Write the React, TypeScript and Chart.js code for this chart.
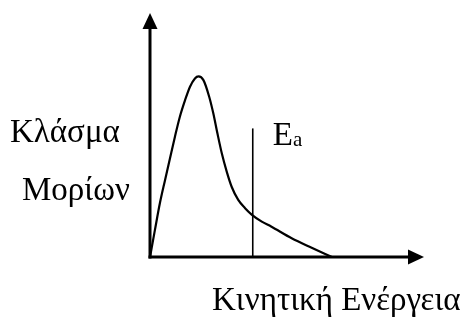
import React, { useEffect, useRef } from "react";
import { Chart, registerables } from "chart.js";

Chart.register(...registerables);

// Maxwell-Boltzmann style curve (arbitrary units)
const energy = [0, 0.18, 0.36, 0.55, 0.73, 0.91, 1.09, 1.28, 1.46, 1.64, 1.77, 1.95, 2.16, 2.31, 2.46, 2.62, 2.8, 2.98, 3.22, 3.47, 3.71, 4.08, 4.42, 5.17, 5.9, 6.64];
const fraction = [0, 1.11, 2.2, 3.16, 4.05, 4.93, 5.75, 6.43, 6.98, 7.32, 7.4, 7.25, 6.57, 5.89, 5.07, 4.25, 3.5, 2.88, 2.34, 2.0, 1.74, 1.45, 1.25, 0.77, 0.38, 0];

const activationEnergy = 3.75;
const activationLineTop = 5.27;

const xLabel = "Κινητική Ενέργεια";
const yLabelLines = ["Κλάσμα", "Μορίων"];
const eaLabel = "E";
const eaSub = "a";

const X_MAX = 10;
const Y_MAX = 10;

const FONT = "'Liberation Serif', 'Times New Roman', serif";

const axesPlugin = {
  id: "axesArrows",
  afterDraw(chart: any) {
    const ctx = chart.ctx as CanvasRenderingContext2D;
    const xs = chart.scales.x;
    const ys = chart.scales.y;
    const x0 = xs.getPixelForValue(0);
    const y0 = ys.getPixelForValue(0);
    const xEnd = xs.getPixelForValue(X_MAX);
    const yEnd = ys.getPixelForValue(Y_MAX);
    ctx.save();
    ctx.strokeStyle = "#000";
    ctx.fillStyle = "#000";
    ctx.lineWidth = 3;
    ctx.lineCap = "butt";
    // y axis
    ctx.beginPath();
    ctx.moveTo(x0, y0 + 1.5);
    ctx.lineTo(x0, yEnd + 14);
    ctx.stroke();
    // x axis
    ctx.beginPath();
    ctx.moveTo(x0 - 1.5, y0);
    ctx.lineTo(xEnd - 14, y0);
    ctx.stroke();
    // arrowheads
    ctx.beginPath();
    ctx.moveTo(x0, yEnd);
    ctx.lineTo(x0 - 7.5, yEnd + 16);
    ctx.lineTo(x0 + 7.5, yEnd + 16);
    ctx.closePath();
    ctx.fill();
    ctx.beginPath();
    ctx.moveTo(xEnd, y0);
    ctx.lineTo(xEnd - 16, y0 - 7.5);
    ctx.lineTo(xEnd - 16, y0 + 7.5);
    ctx.closePath();
    ctx.fill();

    // labels
    ctx.textBaseline = "alphabetic";
    ctx.textAlign = "left";
    ctx.font = `33px ${FONT}`;
    ctx.fillText(yLabelLines[0], x0 - 140, ys.getPixelForValue(4.7));
    ctx.fillText(yLabelLines[1], x0 - 128, ys.getPixelForValue(2.35));
    ctx.fillText(xLabel, x0 + 62, y0 + 53);
    const eaX = xs.getPixelForValue(activationEnergy);
    const eaY = ys.getPixelForValue(activationLineTop);
    ctx.fillText(eaLabel, eaX + 20, eaY + 17);
    const ew = ctx.measureText(eaLabel).width;
    ctx.font = `21px ${FONT}`;
    ctx.fillText(eaSub, eaX + 20 + ew, eaY + 18);
    ctx.restore();
  },
};

export default function App() {
  const ref = useRef<HTMLCanvasElement | null>(null);
  useEffect(() => {
    if (!ref.current) return;
    const chart = new Chart(ref.current, {
      type: "scatter",
      data: {
        datasets: [
          {
            data: energy.map((e, i) => ({ x: e, y: fraction[i] })),
            showLine: true,
            borderColor: "#000",
            borderWidth: 2.2,
            pointRadius: 0,
            cubicInterpolationMode: "monotone",
            fill: false,
            clip: false,
          } as any,
          {
            data: [
              { x: activationEnergy, y: 0 },
              { x: activationEnergy, y: activationLineTop },
            ],
            showLine: true,
            borderColor: "#000",
            borderWidth: 1.6,
            pointRadius: 0,
            clip: false,
          } as any,
        ],
      },
      options: {
        responsive: false,
        animation: false,
        events: [],
        layout: { padding: { left: 150, right: 49, top: 13, bottom: 63 } },
        plugins: {
          legend: { display: false },
          tooltip: { enabled: false },
          title: { display: false },
        },
        scales: {
          x: { type: "linear", min: 0, max: X_MAX, display: false },
          y: { type: "linear", min: 0, max: Y_MAX, display: false },
        },
      },
      plugins: [axesPlugin],
    });
    return () => chart.destroy();
  }, []);
  return (
    <div style={{ position: "fixed", left: 0, top: 0, width: 473, height: 320, background: "#fff" }}>
      <canvas ref={ref} width={473} height={320} style={{ display: "block" }} />
    </div>
  );
}
